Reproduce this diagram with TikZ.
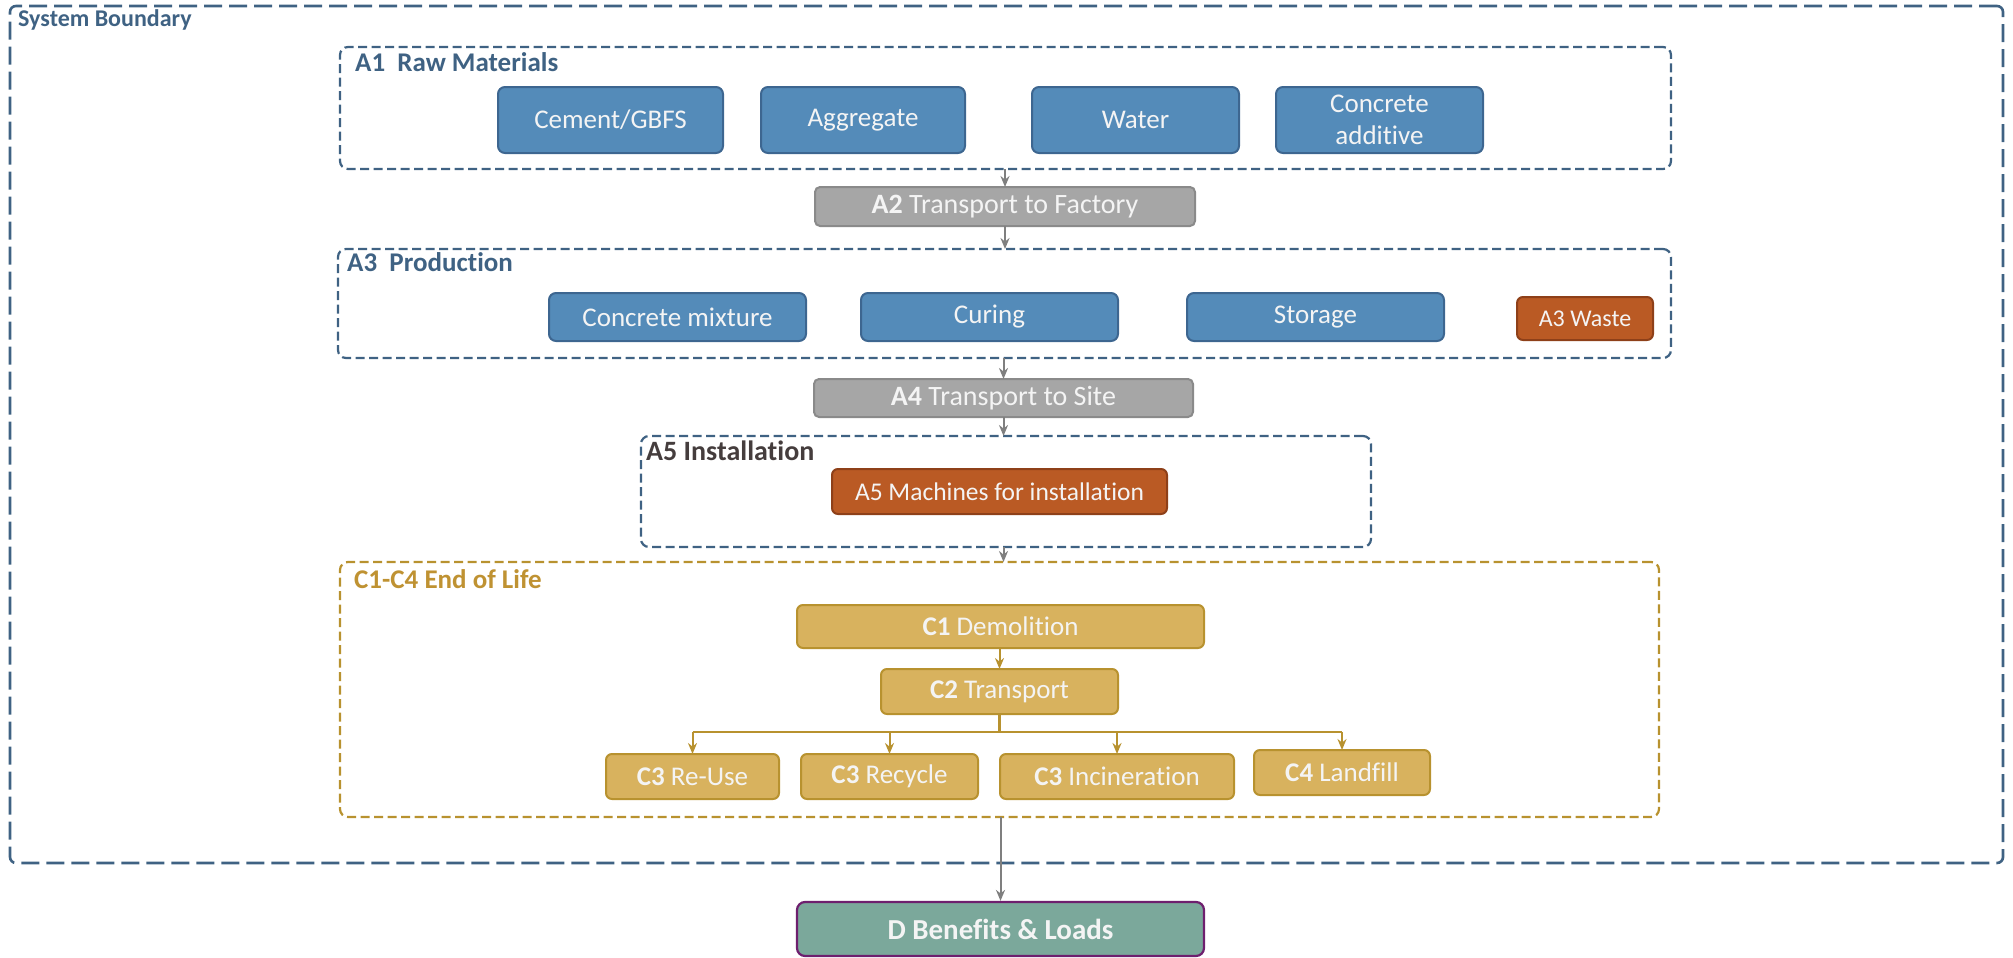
\documentclass[tikz,border=0pt]{standalone}
\usepackage{fontspec}
\setmainfont[Ligatures={NoCommon,NoRequired,NoContextual}]{Carlito}
\usetikzlibrary{arrows.meta}
\definecolor{blueF}{HTML}{548BB9}
\definecolor{blueB}{HTML}{3D6690}
\definecolor{dashBlue}{HTML}{3F6283}
\definecolor{grayF}{HTML}{A6A6A6}
\definecolor{grayB}{HTML}{8A8A8A}
\definecolor{orgF}{HTML}{BA5A24}
\definecolor{orgB}{HTML}{8E4019}
\definecolor{goldF}{HTML}{D8B25E}
\definecolor{goldB}{HTML}{B8922F}
\definecolor{goldT}{HTML}{BF9232}
\definecolor{dF}{HTML}{7BA89B}
\definecolor{dB}{HTML}{6E1F6E}
\definecolor{arrGray}{HTML}{7F7F7F}
\definecolor{txtW}{HTML}{F4F4F4}
\definecolor{instT}{HTML}{453D3D}
\tikzset{
  cont/.style={draw=dashBlue, line width=2.2pt, rounded corners=8pt, inner sep=0pt, outer sep=0pt, dash pattern=on 9pt off 4.5pt},
  bbox/.style={draw=blueB, fill=blueF, line width=2pt, rounded corners=7pt, text=txtW, font=\fontsize{27}{32}\selectfont, align=center, inner sep=0pt, outer sep=0pt},
  gbox/.style={draw=grayB, fill=grayF, line width=2pt, rounded corners=5pt, text=txtW, font=\fontsize{28}{32}\selectfont, inner sep=0pt, outer sep=0pt},
  obox/.style={draw=orgB, fill=orgF, line width=2pt, rounded corners=6pt, text=txtW, font=\fontsize{24}{28}\selectfont, inner sep=0pt, outer sep=0pt},
  ybox/.style={draw=goldB, fill=goldF, line width=2pt, rounded corners=6pt, text=txtW, font=\fontsize{27}{32}\selectfont, inner sep=0pt, outer sep=0pt},
  ttl/.style={anchor=west, inner sep=0pt, font=\bfseries\fontsize{27}{30}\selectfont},
  garr/.style={draw=arrGray, line width=2pt, -{Stealth[length=11pt,width=9pt]}},
  yarr/.style={draw=goldB, line width=2pt, -{Stealth[length=11pt,width=9pt]}},
  yline/.style={draw=goldB, line width=2.5pt},
}
\begin{document}
\begin{tikzpicture}[x=1pt,y=-1pt]
\useasboundingbox (0,0) rectangle (2013,958);
% system boundary
\node[cont, line width=2.6pt, dash pattern=on 18pt off 7pt, rounded corners=6pt, minimum width=1993pt, minimum height=857pt] (SB) at (1006.5,434.5) {};
\node[ttl, text=dashBlue, font=\bfseries\fontsize{24}{28}\selectfont] (SBt) at (18,20) {System Boundary};
% A1
\node[cont, minimum width=1331pt, minimum height=122pt] (A1) at (1005.5,108) {};
\node[ttl, text=dashBlue] (A1t) at (355,62) {A1\ \ Raw Materials};
\node[bbox, minimum width=225pt, minimum height=66pt] (cem) at (610.5,120) {Cement/GBFS};
\node[bbox, minimum width=204pt, minimum height=66pt] (agg) at (863,120) {Aggregate};
\node[bbox, minimum width=207pt, minimum height=66pt] (wat) at (1135.5,120) {Water};
\node[bbox, minimum width=207pt, minimum height=66pt] (add) at (1379.5,120) {Concrete\\additive};
% A2
\node[gbox, minimum width=380pt, minimum height=39pt] (A2) at (1005,206.5) {\textbf{A2} Transport to Factory};
% A3
\node[cont, minimum width=1333pt, minimum height=109pt] (A3) at (1004.5,303.5) {};
\node[ttl, text=dashBlue] (A3t) at (347,262) {A3\ \ Production};
\node[bbox, minimum width=257pt, minimum height=48pt] (mix) at (677.5,317) {Concrete mixture};
\node[bbox, minimum width=257pt, minimum height=48pt] (cur) at (989.5,317) {Curing};
\node[bbox, minimum width=257pt, minimum height=48pt] (sto) at (1315.5,317) {Storage};
\node[obox, minimum width=136pt, minimum height=43pt] (was) at (1585,318.5) {A3 Waste};
% A4
\node[gbox, minimum width=379pt, minimum height=38pt] (A4) at (1003.5,398) {\textbf{A4} Transport to Site};
% A5
\node[cont, minimum width=730pt, minimum height=111pt] (A5) at (1006,491.5) {};
\node[ttl, text=instT, font=\bfseries\fontsize{28}{30}\selectfont] (A5t) at (646,451) {A5 Installation};
\node[obox, font=\fontsize{25.5}{28}\selectfont, minimum width=335pt, minimum height=45pt] (mac) at (999.5,491.5) {A5 Machines for installation};
% C
\node[cont, draw=goldB, minimum width=1319pt, minimum height=255pt] (CC) at (999.5,689.5) {};
\node[ttl, text=goldT] (Ct) at (354,579) {C1-C4 End of Life};
\node[ybox, minimum width=407pt, minimum height=43pt] (C1) at (1000.5,626.5) {\textbf{C1} Demolition};
\node[ybox, minimum width=237pt, minimum height=45pt] (C2) at (999.5,691.5) {\textbf{C2} Transport};
\node[ybox, minimum width=173pt, minimum height=45pt] (reu) at (692.5,776.5) {\textbf{C3} Re-Use};
\node[ybox, minimum width=177pt, minimum height=45pt] (rec) at (889.5,776.5) {\textbf{C3} Recycle};
\node[ybox, minimum width=234pt, minimum height=45pt] (inc) at (1117,776.5) {\textbf{C3} Incineration};
\node[ybox, minimum width=176pt, minimum height=45pt] (lan) at (1342,772.5) {\textbf{C4} Landfill};
% D
\node[draw=dB, fill=dF, line width=2.2pt, rounded corners=8pt, text=txtW, font=\bfseries\fontsize{29}{32}\selectfont, inner sep=0pt, minimum width=407pt, minimum height=54pt] (D) at (1000.5,929) {D Benefits \& Loads};
% connectors
\draw[garr] (A1.south -| A2.north) -- (A2.north);
\draw[garr] (A2.south) -- (A2.south |- A3.north);
\draw[garr] (A3.south -| A4.north) -- (A4.north);
\draw[garr] (A4.south) -- (A4.south |- A5.north);
\draw[garr] (A5.south -| A4.south) -- (A4.south |- CC.north);
\draw[yarr] (C1.south -| C2.north) -- (C2.north);
\coordinate (br) at (999.5,732);
\draw[yline] (C2.south) -- (br);
\draw[yline] (reu.north |- br) -- (lan.north |- br);
\draw[yarr] (reu.north |- br) -- (reu.north);
\draw[yarr] (rec.north |- br) -- (rec.north);
\draw[yarr] (inc.north |- br) -- (inc.north);
\draw[yarr] (lan.north |- br) -- (lan.north);
\draw[garr] (CC.south -| D.north) -- (D.north);
\end{tikzpicture}
\end{document}
